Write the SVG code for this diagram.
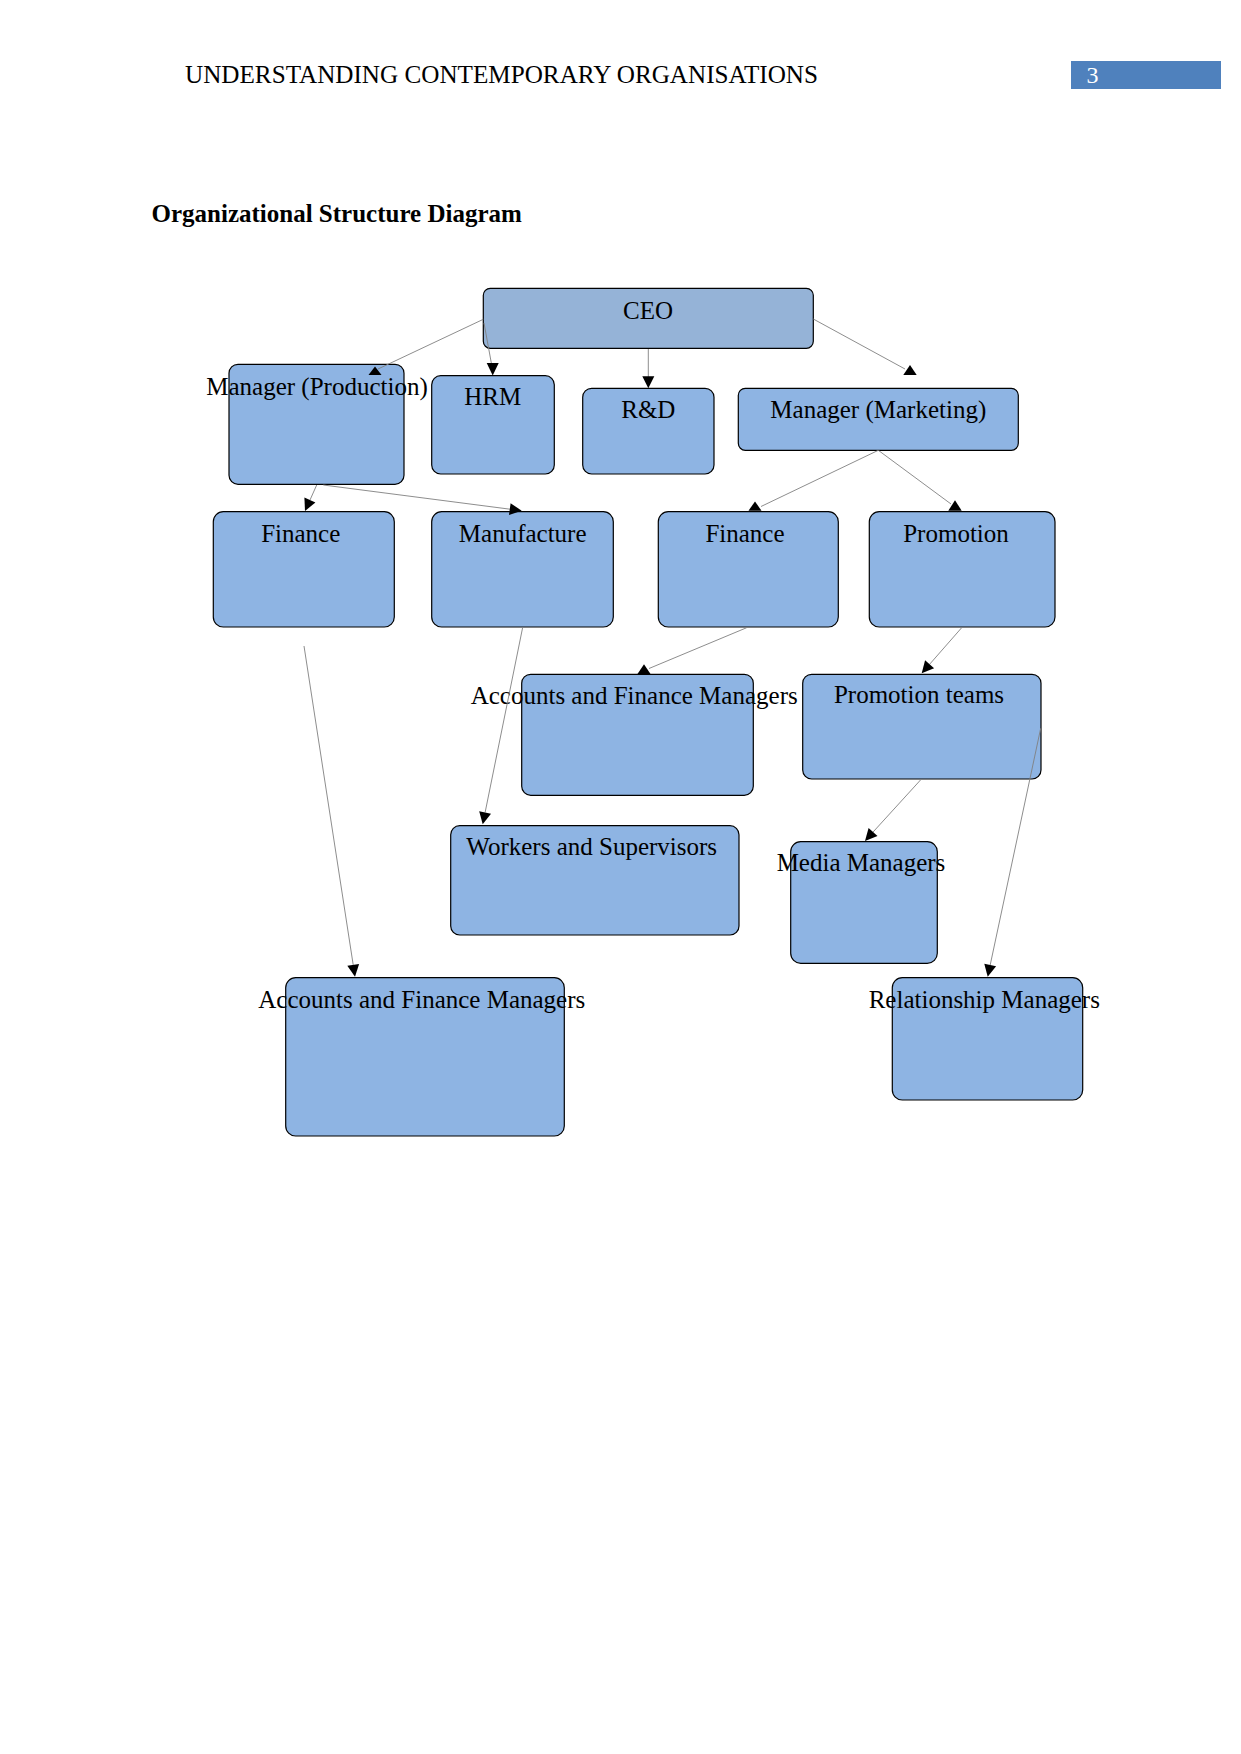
<svg xmlns="http://www.w3.org/2000/svg" width="1241" height="1754" viewBox="0 0 1241 1754">
<style>
  .box { fill: #8eb4e3; stroke: #000; stroke-width: 1.2; }
  .ceo { fill: #95b3d7; }
  .lbl { font-family: "Liberation Serif", "Times New Roman", serif; font-size: 25px; fill: #000; text-anchor: middle; }
  .hdr { font-family: "Liberation Serif", "Times New Roman", serif; font-size: 25px; fill: #000; }
  .conn line { stroke: #808080; stroke-width: 0.9; fill: none; }
  .conn polygon { fill: #000; stroke: none; }
</style>
<rect width="1241" height="1754" fill="#ffffff"/>

<g id="header">
  <text class="hdr" x="185" y="82.5" textLength="633" lengthAdjust="spacingAndGlyphs">UNDERSTANDING CONTEMPORARY ORGANISATIONS</text>
  <rect x="1071" y="61" width="150" height="28" fill="#4f81bd"/>
  <text x="1086.5" y="82.5" font-family="Liberation Serif, Times New Roman, serif" font-size="24" fill="#ffffff">3</text>
</g>

<text id="title" x="151.5" y="221.5" font-family="Liberation Serif, Times New Roman, serif" font-size="25" font-weight="bold" fill="#000">Organizational Structure Diagram</text>

<g id="node-ceo">
  <rect class="box ceo" x="483.3" y="288.3" width="330" height="60" rx="7"/>
  <text class="lbl" x="648" y="319">CEO</text>
</g>
<g id="node-manager-production">
  <rect class="box" x="229" y="364.3" width="175" height="120" rx="9"/>
  <text class="lbl" x="317" y="395">Manager (Production)</text>
</g>
<g id="node-hrm">
  <rect class="box" x="431.7" y="375.7" width="122.6" height="98.3" rx="9"/>
  <text class="lbl" x="492.7" y="405">HRM</text>
</g>
<g id="node-rd">
  <rect class="box" x="582.7" y="388.3" width="131.3" height="85.7" rx="9"/>
  <text class="lbl" x="648.3" y="418.3">R&amp;D</text>
</g>
<g id="node-manager-marketing">
  <rect class="box" x="738.3" y="388.3" width="280" height="62" rx="7"/>
  <text class="lbl" x="878.3" y="418.3">Manager (Marketing)</text>
</g>
<g id="node-finance-left">
  <rect class="box" x="213.3" y="511.7" width="181" height="115.3" rx="10"/>
  <text class="lbl" x="300.7" y="541.7">Finance</text>
</g>
<g id="node-manufacture">
  <rect class="box" x="431.7" y="511.7" width="181.6" height="115.3" rx="10"/>
  <text class="lbl" x="522.7" y="541.7">Manufacture</text>
</g>
<g id="node-finance-right">
  <rect class="box" x="658.3" y="511.7" width="180" height="115.3" rx="10"/>
  <text class="lbl" x="745" y="541.7">Finance</text>
</g>
<g id="node-promotion">
  <rect class="box" x="869.3" y="511.7" width="185.7" height="115.3" rx="10"/>
  <text class="lbl" x="956" y="541.7">Promotion</text>
</g>
<g id="node-accounts-upper">
  <rect class="box" x="521.7" y="674.3" width="231.6" height="121" rx="9"/>
  <text class="lbl" x="634.2" y="704">Accounts and Finance Managers</text>
</g>
<g id="node-promotion-teams">
  <rect class="box" x="802.7" y="674.3" width="238.3" height="104.7" rx="9"/>
  <text class="lbl" x="919" y="703.3">Promotion teams</text>
</g>
<g id="node-workers">
  <rect class="box" x="450.7" y="825.7" width="288.3" height="109.3" rx="9"/>
  <text class="lbl" x="591.7" y="855">Workers and Supervisors</text>
</g>
<g id="node-media">
  <rect class="box" x="790.7" y="841.7" width="146.6" height="121.6" rx="10"/>
  <text class="lbl" x="861" y="870.7">Media Managers</text>
</g>
<g id="node-accounts-lower">
  <rect class="box" x="285.7" y="977.7" width="278.6" height="158.3" rx="10"/>
  <text class="lbl" x="421.8" y="1007.7">Accounts and Finance Managers</text>
</g>
<g id="node-relationship">
  <rect class="box" x="892.3" y="977.7" width="190.4" height="122.3" rx="10"/>
  <text class="lbl" x="984.3" y="1007.7">Relationship Managers</text>
</g>

<g id="connectors" class="conn">
  <line x1="483.3" y1="319.3" x2="378" y2="369"/>
  <polygon points="375,366.5 368.5,375 381.5,375"/>

  <line x1="484" y1="323" x2="491.5" y2="364"/>
  <polygon points="492.7,375.5 486.7,363 498.7,363"/>

  <line x1="648.3" y1="349" x2="648.3" y2="377"/>
  <polygon points="648.3,388.3 642.3,376.3 654.3,376.3"/>

  <line x1="813.3" y1="319" x2="905" y2="369"/>
  <polygon points="910,365 903.3,375 916.7,375"/>

  <line x1="316.7" y1="485" x2="310" y2="500"/>
  <polygon points="305,511 315.4,502.6 304.4,497.6"/>

  <line x1="323.3" y1="485" x2="510" y2="509.2"/>
  <polygon points="521.7,510.7 509,515.1 510.6,503.2"/>

  <line x1="878.3" y1="450.3" x2="761" y2="506.5"/>
  <polygon points="755,501.5 748.5,510.7 761.5,510.7"/>

  <line x1="878.3" y1="450.3" x2="951" y2="504"/>
  <polygon points="955,500.3 948.3,510.7 961.7,510.7"/>

  <line x1="746.7" y1="627.7" x2="649" y2="668.5"/>
  <polygon points="644,664.3 637.3,674.3 650.7,674.3"/>

  <line x1="961.7" y1="627.7" x2="929.6" y2="664.3"/>
  <polygon points="921.7,673.3 934.1,668.3 925.1,660.3"/>

  <line x1="522.7" y1="627.3" x2="485.1" y2="812.5"/>
  <polygon points="482.7,824.3 491,813.7 479.2,811.3"/>

  <line x1="304" y1="646" x2="353.2" y2="964.8"/>
  <polygon points="355,976.7 359.1,963.9 347.3,965.7"/>

  <line x1="920.5" y1="780" x2="873" y2="832.1"/>
  <polygon points="865,841 877.5,836.1 868.6,828.1"/>

  <line x1="1040.7" y1="728.3" x2="990.2" y2="965"/>
  <polygon points="987.7,976.7 996.1,966.2 984.3,963.7"/>
</g>
</svg>
